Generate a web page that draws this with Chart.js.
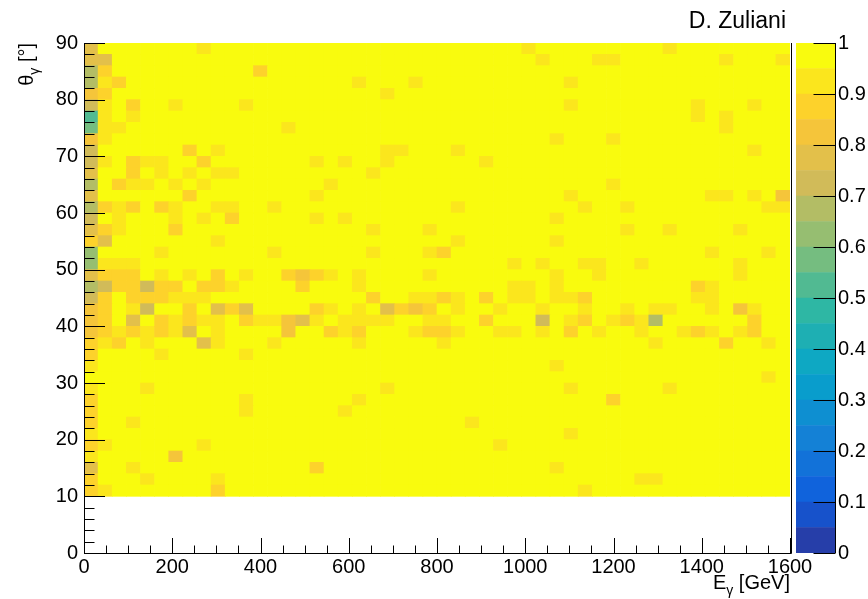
<!DOCTYPE html>
<html>
<head>
<meta charset="utf-8">
<script src="https://cdn.jsdelivr.net/npm/chart.js@4.4.1/dist/chart.umd.min.js"></script>
<style>
    html, body { margin: 0; padding: 0; background: #fff; }
    #wrap { position: relative; width: 868px; height: 599px; }
    #map { position: absolute; left: 0; top: 0; }
    #pal { position: absolute; left: 796px; top: 0; }
</style>
</head>
<body>
<div id="wrap">
    <canvas id="map" width="868" height="599"></canvas>
    <canvas id="pal" width="72" height="599"></canvas>
</div>
<script>
/* ============================================
   Photon efficiency map  E_gamma x theta_gamma
   ============================================ */

const energyBinWidth = 32;      // GeV, 50 bins 0..1600
const thetaBinWidth = 2;        // deg, 40 bins 10..90
const thetaTop = 90;

const energyTicks = [0, 200, 400, 600, 800, 1000, 1200, 1400, 1600];
const thetaTicks = [0, 10, 20, 30, 40, 50, 60, 70, 80, 90];
const zTicks = [0, 0.1, 0.2, 0.3, 0.4, 0.5, 0.6, 0.7, 0.8, 0.9, 1];
const zEdges = [0, 0.05, 0.1, 0.15, 0.2, 0.25, 0.3, 0.35, 0.4, 0.45, 0.5,
                0.55, 0.6, 0.65, 0.7, 0.75, 0.8, 0.85, 0.9, 0.95, 1];

// efficiency read per cell, one char per energy bin (code -> value below)
const effLevel = { '0': 0.525, '1': 0.575, '2': 0.625, '3': 0.675, '4': 0.725,
                   '5': 0.775, '6': 0.825, '7': 0.875, '8': 0.925, '9': 0.975 };

// top row = 88-90 deg, last row = 10-12 deg
const effRows = [
    '5999999989 9999999999 9999999999 9899999999 9899999999',
    '5599999999 9999999999 9999999999 9989998899 9999989998',
    '3799999999 9979999999 9999999999 9999999999 9999999999',
    '3879999999 9999999998 9998999999 9999899999 9999999999',
    '6799999999 9999999999 9899999999 9999999999 9999999999',
    '4897998999 9899999999 9999999999 9999899999 9998999899',
    '0898999999 9999999999 9999999999 9999999999 9998989999',
    '1889999999 9999899999 9999999999 9999999999 9999989999',
    '6899999999 9999999999 9999999999 9998999899 9999999999',
    '4999999798 9999999999 9889998999 9999999999 9999999899',
    '4897889979 9999998989 9899999989 9999999999 9999999999',
    '5997989898 8999999999 8999999999 9999999999 9999999999',
    '3978898989 9999999899 9999999999 9999999899 9999999999',
    '5999999799 9999998999 9999999999 9999899999 9999889896',
    '3787978998 8998999999 9999998999 9999989989 9999999988',
    '4989998989 7999998989 9999999999 9998999999 9999999999',
    '5789997999 9999999999 8999899999 9999999989 9899998999',
    '7599999998 9999999999 9999998999 9998999999 9999999999',
    '2999989999 9998999999 8999879999 9999999999 9999899989',
    '2888999999 9999999999 9999999999 8989988998 9999998999',
    '5777989897 9899767898 9999899999 9998998999 9999998999',
    '3477477977 8999979998 9999999999 8898999999 9997899999',
    '4797778889 9999999999 7998878979 8898879999 9998899999',
    '6798499795 7599997898 9576798998 9989989989 8899896899',
    '6795978788 9788658988 8899889979 9949879878 3999999799',
    '6787878598 9999699787 9998778998 8989798998 9987898799',
    '7879899958 9998999998 9999989999 9999999999 8999979989',
    '7999989999 9899999999 9999999999 9999999999 9999999999',
    '8999999999 9999999999 9999999999 9998999999 9999999999',
    '9999999999 9999999999 9999999999 9999999999 9999999989',
    '8999899999 9999999999 9899999999 9999899999 9899999999',
    '7999999999 9899999998 9999999999 9999999799 9999999999',
    '7999999999 9899999989 9999999999 9999999999 9999999999',
    '7998999999 9999999999 9999999899 9999999999 9999999999',
    '8999999999 9999999999 9999999999 9999899999 9999999999',
    '7899999989 9999999999 9999999998 9999999999 9999999999',
    '8999996999 9999999999 9999999999 9999999999 9999999999',
    '5998999999 9999997999 9999999999 9998999999 9999999999',
    '7999899998 9999999999 9999999999 9999999998 8999999999',
    '7899999997 9999999999 9999999999 9999989999 9999999999'
];

const FONT = '"Liberation Sans", Arial, Helvetica, sans-serif';
Chart.defaults.font.family = FONT;
Chart.defaults.font.size = 20;
Chart.defaults.color = '#000';

// ROOT kBird palette stops
const birdStops = [
    [53, 42, 135], [15, 92, 221], [20, 129, 214], [6, 164, 202], [46, 183, 164],
    [135, 191, 119], [209, 187, 89], [254, 200, 50], [249, 251, 14]
];
function bird(t) {
    const f = Math.min(Math.max(t, 0), 1) * (birdStops.length - 1);
    const i = Math.min(Math.floor(f), birdStops.length - 2);
    const u = f - i;
    const a = birdStops[i], b = birdStops[i + 1];
    return 'rgb(' + a.map((v, j) => Math.round(v + (b[j] - v) * u)).join(',') + ')';
}
function zColor(z) {
    const nLev = zEdges.length - 1;
    const k = Math.min(Math.floor(z * nLev), nLev - 1);
    return bird((k + 0.99) / nLev);
}

const cells = [];
const cellColors = [];
effRows.forEach((row, r) => {
    const codes = row.replace(/ /g, '');
    const hi = thetaTop - r * thetaBinWidth;
    for (let c = 0; c < codes.length; c++) {
        cells.push({ x: (c + 0.5) * energyBinWidth, y: [hi - thetaBinWidth, hi] });
        cellColors.push(zColor(effLevel[codes[c]]));
    }
});

function drawSubText(ctx, main, sub, tail, x, y, size) {
    const big = size + 'px ' + FONT;
    const small = Math.round(size * 0.7) + 'px ' + FONT;
    ctx.font = big;
    const w1 = ctx.measureText(main).width;
    const w3 = ctx.measureText(tail).width;
    ctx.font = small;
    const w2 = ctx.measureText(sub).width;
    let cx = x - (w1 + w2 + w3);
    ctx.textAlign = 'left';
    ctx.font = big; ctx.fillText(main, cx, y); cx += w1;
    ctx.font = small; ctx.fillText(sub, cx, y + size * 0.3); cx += w2;
    ctx.font = big; ctx.fillText(tail, cx, y);
}

// ticks inside the frame, ROOT style
const rootFrame = {
    id: 'rootFrame',
    afterDatasetsDraw(chart) {
        const { ctx, chartArea: a, scales: { x, y } } = chart;
        ctx.save();
        ctx.strokeStyle = '#000';
        ctx.lineWidth = 1;
        ctx.beginPath();
        ctx.moveTo(a.left + 0.5, a.top);
        ctx.lineTo(a.left + 0.5, a.bottom + 0.5);
        ctx.lineTo(a.right + 1.5, a.bottom + 0.5);
        ctx.lineTo(a.right + 1.5, a.top);
        for (let v = x.min; v <= x.max; v += 50) {
            const px = Math.round(x.getPixelForValue(v)) + 0.5;
            const len = energyTicks.includes(v) ? 15 : 7.5;
            ctx.moveTo(px, a.bottom);
            ctx.lineTo(px, a.bottom - len);
        }
        for (let v = y.min; v <= y.max; v += 2) {
            const py = Math.round(y.getPixelForValue(v)) + 0.5;
            const len = thetaTicks.includes(v) ? 21 : 10.5;
            ctx.moveTo(a.left, py);
            ctx.lineTo(a.left + len, py);
        }
        ctx.stroke();

        ctx.fillStyle = '#000';
        ctx.textBaseline = 'alphabetic';
        ctx.font = '23px ' + FONT;
        ctx.textAlign = 'right';
        ctx.fillText('D. Zuliani', 786, 28);

        drawSubText(ctx, 'E', 'γ', ' [GeV]', a.right, 589, 20);

        ctx.translate(33, a.top);
        ctx.rotate(-Math.PI / 2);
        drawSubText(ctx, 'θ', 'γ', ' [°]', 0, 0, 20);
        ctx.restore();
    }
};

new Chart(document.getElementById('map'), {
    type: 'bar',
    data: {
        datasets: [{
            data: cells,
            backgroundColor: cellColors,
            borderWidth: 0,
            barPercentage: 1,
            categoryPercentage: 1
        }]
    },
    options: {
        responsive: false,
        animation: false,
        events: [],
        layout: { padding: { left: 0, top: 43, right: 78, bottom: 0 } },
        plugins: { legend: { display: false }, tooltip: { enabled: false } },
        scales: {
            x: {
                type: 'linear', min: 0, max: 1600, offset: false,
                grid: { display: false, offset: false, drawTicks: false },
                border: { display: false },
                afterFit: s => { s.height = 46; },
                afterBuildTicks: s => { s.ticks = energyTicks.map(v => ({ value: v })); },
                ticks: { padding: 2, maxRotation: 0, autoSkip: false, callback: v => String(v) }
            },
            y: {
                type: 'linear', min: 0, max: 90,
                grid: { display: false, drawTicks: false },
                border: { display: false },
                afterFit: s => { s.width = 84; },
                afterBuildTicks: s => { s.ticks = thetaTicks.map(v => ({ value: v })); },
                ticks: { padding: 6, autoSkip: false, callback: v => String(v) }
            }
        }
    },
    plugins: [rootFrame]
});

// colour scale
const paletteAxis = {
    id: 'paletteAxis',
    afterDatasetsDraw(chart) {
        const { ctx, chartArea: a, scales: { y } } = chart;
        ctx.save();
        ctx.strokeStyle = '#000';
        ctx.lineWidth = 1;
        ctx.beginPath();
        const xr = a.right + 0.5;
        ctx.moveTo(xr, a.top);
        ctx.lineTo(xr, a.bottom);
        zTicks.forEach(v => {
            const py = Math.round(y.getPixelForValue(v)) + 0.5;
            ctx.moveTo(xr, py);
            ctx.lineTo(xr - 22, py);
        });
        ctx.stroke();
        ctx.restore();
    }
};

new Chart(document.getElementById('pal'), {
    type: 'bar',
    data: {
        labels: [''],
        datasets: zEdges.slice(0, -1).map((lo, k) => ({
            data: [[lo, zEdges[k + 1]]],
            backgroundColor: zColor((lo + zEdges[k + 1]) / 2),
            borderWidth: 0,
            grouped: false,
            barPercentage: 1,
            categoryPercentage: 1
        }))
    },
    options: {
        responsive: false,
        animation: false,
        events: [],
        layout: { padding: { left: 0, top: 43, right: 0, bottom: 46 } },
        plugins: { legend: { display: false }, tooltip: { enabled: false } },
        scales: {
            x: { display: false },
            y: {
                position: 'right', min: 0, max: 1,
                grid: { display: false, drawTicks: false },
                border: { display: false },
                afterFit: s => { s.width = 33; },
                afterBuildTicks: s => { s.ticks = zTicks.map(v => ({ value: v })); },
                ticks: { padding: 3, autoSkip: false, callback: v => String(v) }
            }
        }
    },
    plugins: [paletteAxis]
});
</script>
</body>
</html>
